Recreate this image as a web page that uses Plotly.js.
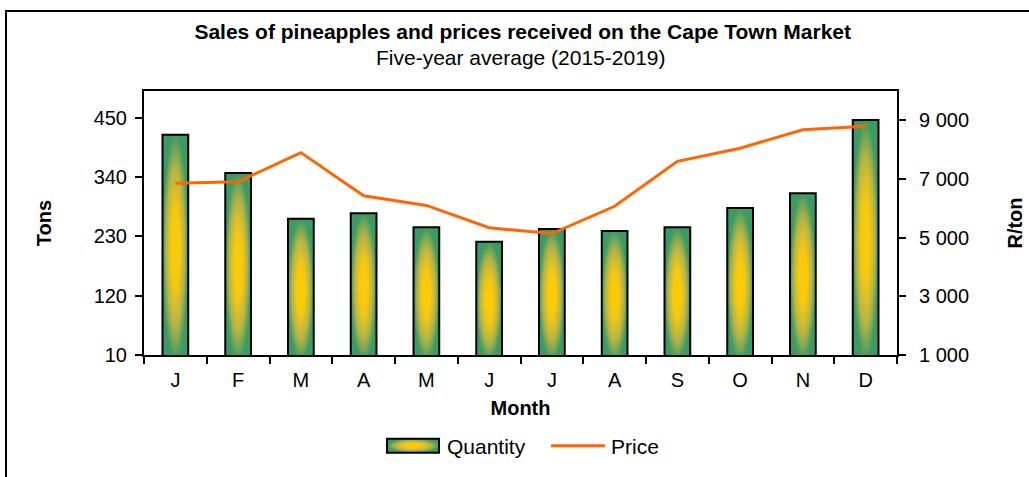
<!DOCTYPE html>
<html>
<head>
<meta charset="utf-8">
<script src="https://cdn.plot.ly/plotly-3.0.1.min.js"></script>
<style>
html,body{margin:0;padding:0;background:#fff;overflow:hidden;}
#frame{position:absolute;left:5px;top:10px;width:1040px;height:500px;border:2px solid #000;box-sizing:border-box;}
#chart{position:absolute;left:0;top:0;width:1029px;height:477px;}
</style>
</head>
<body>
<div id="frame"></div>
<div id="chart"></div>
<script>
const months = ['J','F','M','A','M','J','J','A','S','O','N','D'];
const quantityTons = [419, 348, 263, 273, 247, 220, 244, 240, 247, 283, 310, 446];
const priceRandPerTon = [6855, 6910, 7900, 6430, 6100, 5340, 5140, 6070, 7600, 8050, 8680, 8800];
const leftTicks = [10, 120, 230, 340, 450];
const rightTicks = [1000, 3000, 5000, 7000, 9000];
const rightTickText = ['1 000', '3 000', '5 000', '7 000', '9 000'];
const chartTitle = 'Sales of pineapples and prices received on the Cape Town Market';
const chartSubtitle = 'Five-year average (2015-2019)';

const xIdx = months.map((m, i) => i);
const boundaries = months.map((m, i) => i - 0.5).concat([months.length - 0.5]);
const FONT = 'Liberation Sans, Arial, sans-serif';
const FS = 20;

const traces = [
  {
    type: 'bar', name: 'Quantity', x: xIdx, y: quantityTons, yaxis: 'y',
    width: 0.41,
    marker: {color: 'rgb(230,196,30)', line: {color: '#000', width: 2}}
  },
  {
    type: 'scatter', mode: 'lines', name: 'Price', x: xIdx, y: priceRandPerTon, yaxis: 'y2',
    line: {color: 'rgb(255,102,0)', width: 3}
  }
];

const layout = {
  width: 1029, height: 477,
  margin: {l: 144, r: 132, t: 91, b: 121, pad: 0},
  paper_bgcolor: 'rgba(0,0,0,0)', plot_bgcolor: '#fff',
  font: {family: FONT, size: FS, color: '#000'},
  showlegend: true,
  title: {
    text: '<b>' + chartTitle + '</b>',
    x: 0.508, xanchor: 'center', yref: 'container', y: 1 - 32 / 477, yanchor: 'middle',
    font: {family: FONT, size: 21, color: '#000'}
  },
  annotations: [{
    text: chartSubtitle, xref: 'paper', yref: 'paper', x: 0.5, y: (355.7 - 57) / 264.7,
    xanchor: 'center', yanchor: 'middle', showarrow: false,
    font: {family: FONT, size: 21, color: '#000'}
  }],
  xaxis: {
    type: 'linear', range: [-0.5, 11.5], tickvals: xIdx, ticktext: months,
    showline: true, linecolor: '#000', linewidth: 2, mirror: true,
    ticks: '', showgrid: false, zeroline: false,
    ticklabelstandoff: 6,
    tickfont: {family: FONT, size: FS},
    minor: {tickvals: boundaries, ticks: 'outside', ticklen: 7, tickwidth: 2, tickcolor: '#000', showgrid: false},
    title: {text: '<b>Month</b>', font: {family: FONT, size: FS}, standoff: 11}
  },
  yaxis: {
    range: [10, 500], tickvals: leftTicks, ticktext: leftTicks.map(String),
    showline: true, linecolor: '#000', linewidth: 2,
    ticks: 'outside', ticklen: 7, tickwidth: 2, tickcolor: '#000',
    ticklabelstandoff: 4,
    showgrid: false, zeroline: false,
    tickfont: {family: FONT, size: FS},
    title: {text: '<b>Tons</b>', font: {family: FONT, size: FS}, standoff: 37}
  },
  yaxis2: {
    overlaying: 'y', side: 'right',
    range: [1000, 10000], tickvals: rightTicks, ticktext: rightTickText,
    showline: true, linecolor: '#000', linewidth: 2,
    ticks: 'outside', ticklen: 7, tickwidth: 2, tickcolor: '#000',
    ticklabelstandoff: 9,
    showgrid: false, zeroline: false,
    tickfont: {family: FONT, size: FS},
    title: {text: '<b>R/ton</b>', font: {family: FONT, size: FS}, standoff: 40}
  },
  legend: {
    orientation: 'h', x: (385 - 144) / 753, xanchor: 'left', y: -0.34, yanchor: 'middle',
    font: {family: FONT, size: 21}, bgcolor: 'rgba(0,0,0,0)', itemwidth: 52,
    entrywidth: 97, entrywidthmode: 'pixels'
  }
};

Plotly.newPlot('chart', traces, layout, {displayModeBar: false, staticPlot: true}).then(function(gd){
  const svg = gd.querySelector('svg.main-svg');
  const NS = 'http://www.w3.org/2000/svg';
  let defs = svg.querySelector('defs');
  if (!defs) { defs = document.createElementNS(NS, 'defs'); svg.insertBefore(defs, svg.firstChild); }
  const g = document.createElementNS(NS, 'radialGradient');
  g.setAttribute('id', 'barGrad');
  g.setAttribute('cx', '0.5'); g.setAttribute('cy', '0.5'); g.setAttribute('r', '0.5');
  [['0%', '#ffcc00'], ['35%', '#f5c814'], ['70%', '#b4b446'], ['100%', '#3c9a64']].forEach(function(s){
    const st = document.createElementNS(NS, 'stop');
    st.setAttribute('offset', s[0]); st.setAttribute('stop-color', s[1]);
    g.appendChild(st);
  });
  defs.appendChild(g);
  gd.querySelectorAll('.barlayer .point path').forEach(function(p){
    p.style.fill = 'url(#barGrad)';
  });
  const items = gd.querySelectorAll('.legend .traces');
  if (items[0]) {
    const p = items[0].querySelector('.legendpoints path');
    if (p) { p.setAttribute('d', 'M-29,-7h52v14h-52z'); p.style.fill = 'url(#barGrad)'; p.style.strokeWidth = '2px'; }
  }
  if (items[1]) {
    const p = items[1].querySelector('.legendlines path');
    if (p) { p.setAttribute('d', 'M2,0h54'); }
  }
});
</script>
</body>
</html>
